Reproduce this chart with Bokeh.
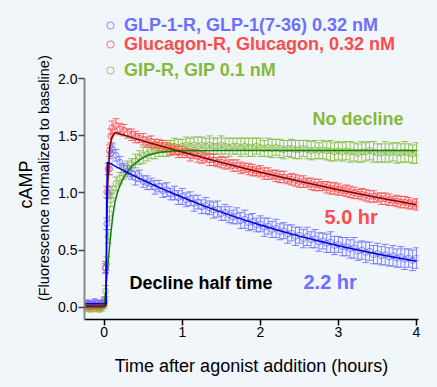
import math
from bokeh.plotting import figure
from bokeh.layouts import row
from bokeh.models import (ColumnDataSource, Whisker, TeeHead, Label, Legend, LegendItem,
                          FixedTicker, Range1d, NumeralTickFormatter)
from bokeh.embed import file_html
from bokeh.resources import INLINE

# ---------------- data ----------------
time_h = [-0.24, -0.21, -0.18, -0.15, -0.12, -0.09, -0.06, -0.03,
          0.0, 0.017, 0.033, 0.05, 0.067, 0.083,
          0.10, 0.15, 0.20, 0.25, 0.30, 0.35, 0.40, 0.45, 0.50, 0.55,
          0.60, 0.65, 0.70, 0.75, 0.80, 0.85, 0.90, 0.95, 1.00, 1.05,
          1.10, 1.15, 1.20, 1.25, 1.30, 1.35, 1.40, 1.45, 1.50, 1.55,
          1.60, 1.65, 1.70, 1.75, 1.80, 1.85, 1.90, 1.95, 2.00, 2.05,
          2.10, 2.15, 2.20, 2.25, 2.30, 2.35, 2.40, 2.45, 2.50, 2.55,
          2.60, 2.65, 2.70, 2.75, 2.80, 2.85, 2.90, 2.95, 3.00, 3.05,
          3.10, 3.15, 3.20, 3.25, 3.30, 3.35, 3.40, 3.45, 3.50, 3.55,
          3.60, 3.65, 3.70, 3.75, 3.80, 3.85, 3.90, 3.95, 4.00]

glp1_camp = [0.03, 0.04, 0.02, 0.03, 0.05, 0.03, 0.02, 0.04,
             0.06, 0.34, 0.73, 1.00, 1.21, 1.35,
             1.39, 1.33, 1.27, 1.22, 1.19, 1.17, 1.13, 1.15, 1.10, 1.09,
             1.08, 1.05, 1.06, 1.02, 1.03, 0.99, 1.00, 0.96, 0.97, 0.94,
             0.95, 0.91, 0.92, 0.88, 0.89, 0.87, 0.85, 0.86, 0.82, 0.83,
             0.81, 0.79, 0.80, 0.76, 0.77, 0.74, 0.75, 0.72, 0.73, 0.70,
             0.71, 0.68, 0.69, 0.66, 0.67, 0.64, 0.65, 0.62, 0.63, 0.60,
             0.62, 0.59, 0.60, 0.57, 0.58, 0.56, 0.57, 0.54, 0.55, 0.53,
             0.53, 0.51, 0.52, 0.49, 0.50, 0.48, 0.49, 0.46, 0.47, 0.45,
             0.46, 0.44, 0.45, 0.43, 0.44, 0.42, 0.43, 0.41, 0.43]
glp1_err = [0.02, 0.02, 0.03, 0.02, 0.02, 0.03, 0.02, 0.02,
            0.03, 0.04, 0.05, 0.05, 0.05, 0.05,
            0.04, 0.05, 0.05, 0.04, 0.05, 0.05, 0.06, 0.05, 0.05, 0.06,
            0.05, 0.06, 0.05, 0.06, 0.06, 0.05, 0.06, 0.06, 0.07, 0.06,
            0.06, 0.07, 0.06, 0.06, 0.07, 0.06, 0.07, 0.07, 0.06, 0.07,
            0.07, 0.06, 0.07, 0.07, 0.08, 0.07, 0.07, 0.06, 0.07, 0.08,
            0.07, 0.07, 0.08, 0.07, 0.07, 0.08, 0.07, 0.08, 0.07, 0.08,
            0.08, 0.07, 0.08, 0.08, 0.07, 0.08, 0.09, 0.08, 0.07, 0.08,
            0.08, 0.08, 0.09, 0.08, 0.08, 0.09, 0.08, 0.08, 0.09, 0.08,
            0.09, 0.08, 0.09, 0.08, 0.09, 0.09, 0.08, 0.09, 0.09]

gcg_camp = [0.01, 0.02, 0.00, 0.01, 0.02, 0.01, 0.00, 0.02,
            0.04, 0.35, 1.01, 1.21, 1.37, 1.50,
            1.57, 1.59, 1.56, 1.55, 1.52, 1.51, 1.49, 1.48, 1.47, 1.45,
            1.45, 1.43, 1.42, 1.41, 1.40, 1.38, 1.38, 1.36, 1.36, 1.35,
            1.33, 1.34, 1.32, 1.31, 1.31, 1.29, 1.29, 1.27, 1.27, 1.26,
            1.25, 1.24, 1.24, 1.22, 1.22, 1.21, 1.20, 1.19, 1.19, 1.17,
            1.17, 1.16, 1.15, 1.14, 1.14, 1.12, 1.12, 1.11, 1.10, 1.10,
            1.09, 1.08, 1.07, 1.07, 1.06, 1.05, 1.04, 1.04, 1.03, 1.02,
            1.02, 1.01, 1.00, 0.99, 0.99, 0.98, 0.97, 0.97, 0.96, 0.95,
            0.95, 0.94, 0.93, 0.93, 0.92, 0.92, 0.91, 0.90, 0.90]
gcg_err = [0.02, 0.02, 0.02, 0.03, 0.02, 0.02, 0.02, 0.03,
           0.03, 0.05, 0.05, 0.05, 0.05, 0.06,
           0.06, 0.06, 0.05, 0.05, 0.04, 0.05, 0.05, 0.04, 0.05, 0.04,
           0.05, 0.04, 0.05, 0.05, 0.04, 0.05, 0.04, 0.05, 0.05, 0.04,
           0.05, 0.04, 0.05, 0.05, 0.04, 0.05, 0.05, 0.04, 0.05, 0.05,
           0.04, 0.05, 0.05, 0.05, 0.04, 0.05, 0.05, 0.04, 0.05, 0.05,
           0.05, 0.04, 0.05, 0.05, 0.05, 0.04, 0.05, 0.05, 0.05, 0.05,
           0.04, 0.05, 0.05, 0.05, 0.04, 0.05, 0.05, 0.05, 0.05, 0.04,
           0.05, 0.05, 0.05, 0.04, 0.05, 0.05, 0.05, 0.05, 0.04, 0.05,
           0.05, 0.05, 0.04, 0.05, 0.05, 0.05, 0.05, 0.04, 0.05]

gip_camp = [-0.01, 0.00, -0.02, 0.01, -0.01, 0.00, -0.02, 0.00,
            0.02, 0.14, 0.38, 0.62, 0.82, 0.94,
            1.01, 1.08, 1.13, 1.18, 1.22, 1.25, 1.28, 1.31, 1.33, 1.34,
            1.36, 1.37, 1.38, 1.39, 1.39, 1.40, 1.41, 1.40, 1.41, 1.42,
            1.41, 1.42, 1.41, 1.42, 1.41, 1.42, 1.41, 1.41, 1.42, 1.41,
            1.40, 1.41, 1.41, 1.40, 1.41, 1.40, 1.40, 1.41, 1.40, 1.39,
            1.40, 1.39, 1.40, 1.39, 1.38, 1.39, 1.39, 1.38, 1.38, 1.39,
            1.38, 1.37, 1.38, 1.37, 1.38, 1.37, 1.37, 1.36, 1.37, 1.36,
            1.37, 1.36, 1.36, 1.35, 1.36, 1.36, 1.37, 1.36, 1.35, 1.35,
            1.36, 1.35, 1.36, 1.35, 1.35, 1.36, 1.35, 1.34, 1.35]
gip_err = [0.02, 0.03, 0.02, 0.02, 0.03, 0.02, 0.02, 0.03,
           0.03, 0.05, 0.06, 0.06, 0.06, 0.06,
           0.05, 0.06, 0.05, 0.06, 0.06, 0.05, 0.06, 0.06, 0.07, 0.06,
           0.06, 0.07, 0.06, 0.07, 0.07, 0.06, 0.07, 0.07, 0.06, 0.07,
           0.07, 0.07, 0.08, 0.07, 0.07, 0.08, 0.07, 0.07, 0.08, 0.07,
           0.08, 0.07, 0.07, 0.08, 0.07, 0.08, 0.08, 0.07, 0.08, 0.07,
           0.08, 0.08, 0.07, 0.08, 0.08, 0.07, 0.08, 0.08, 0.08, 0.07,
           0.08, 0.08, 0.08, 0.07, 0.08, 0.08, 0.09, 0.08, 0.08, 0.08,
           0.08, 0.09, 0.08, 0.08, 0.09, 0.08, 0.08, 0.09, 0.08, 0.08,
           0.09, 0.08, 0.08, 0.09, 0.08, 0.09, 0.08, 0.08, 0.09]

# fitted curves
glp1_fit_t = [-0.25, 0.025, 0.03, 0.04, 0.25, 0.5, 0.75, 1.0, 1.25, 1.5, 1.75, 2.0,
              2.25, 2.5, 2.75, 3.0, 3.25, 3.5, 3.75, 4.0]
glp1_fit_v = [0.03, 0.03, 0.90, 1.27, 1.195, 1.111, 1.034, 0.962, 0.894, 0.832, 0.773, 0.719,
              0.669, 0.622, 0.579, 0.538, 0.501, 0.466, 0.433, 0.403]
gcg_fit_t = [-0.25, 0.02, 0.04, 0.07, 0.10, 0.14, 0.5, 1.0, 1.5, 2.0, 2.5, 3.0, 3.5, 4.0]
gcg_fit_v = [0.01, 0.01, 1.00, 1.40, 1.49, 1.53, 1.456, 1.358, 1.267, 1.182, 1.103, 1.029, 0.960, 0.896]
gip_fit_t = [-0.25, 0.0, 0.02, 0.05, 0.08, 0.11, 0.14, 0.18, 0.23, 0.29, 0.36, 0.45, 0.55,
             0.7, 0.85, 1.0, 1.5, 4.0]
gip_fit_v = [0.0, 0.0, 0.16, 0.40, 0.62, 0.80, 0.93, 1.03, 1.11, 1.18, 1.24, 1.29, 1.33,
             1.355, 1.365, 1.37, 1.372, 1.372]

x_ticks = [0, 1, 2, 3, 4]
y_ticks = [0.0, 0.5, 1.0, 1.5, 2.0]

legend_labels = ["GLP-1-R, GLP-1(7-36) 0.32 nM", "Glucagon-R, Glucagon, 0.32 nM", "GIP-R, GIP 0.1 nM"]
y_label_main = "cAMP"
y_label_sub = "(Fluorescence normalized to baseline)"
x_label = "Time after agonist addition (hours)"

# ---------------- styles ----------------
BG = "#f1f6fb"
BLUE, RED, GREEN = "#6e6eff", "#ff4b4b", "#86b83a"
BLUE_L, RED_L, GREEN_L = "#0000dd", "#800000", "#108010"
FONT = "Liberation Sans"
LEFT_W = 52

# narrow strip (no axes) holding the two-line y-axis title
side = figure(width=LEFT_W, height=387, output_backend="svg", toolbar_location=None,
              x_axis_location=None, y_axis_location=None,
              x_range=Range1d(0, LEFT_W), y_range=Range1d(387, 0),
              min_border_left=0, min_border_right=0, min_border_top=0, min_border_bottom=0,
              background_fill_color=BG, border_fill_color=BG, outline_line_color=None)
side.grid.visible = False
side.add_layout(Label(x=25, y=218, text=y_label_main, angle=math.pi / 2,
                      text_font=FONT, text_font_size="18px", text_color="#000000",
                      text_align="center", text_baseline="middle"))
side.add_layout(Label(x=43, y=210, text=y_label_sub, angle=math.pi / 2,
                      text_font=FONT, text_font_size="14.5px", text_color="#000000",
                      text_align="center", text_baseline="middle"))

p = figure(width=437 - LEFT_W, height=387, output_backend="svg", toolbar_location=None,
           x_range=Range1d(-0.253, 4.026), y_range=Range1d(-0.108, 2.598),
           min_border_left=84 - LEFT_W, min_border_right=19, min_border_top=10,
           min_border_bottom=68,
           background_fill_color=BG, border_fill_color=BG, outline_line_color=None)
p.xgrid.visible = False
p.ygrid.visible = False

p.xaxis.ticker = FixedTicker(ticks=x_ticks)
p.yaxis.ticker = FixedTicker(ticks=y_ticks)
p.yaxis.formatter = NumeralTickFormatter(format="0.0")
p.yaxis.bounds = (-0.108, 2.0)
for ax in (p.xaxis, p.yaxis):
    ax.minor_tick_line_color = None
    ax.major_tick_in = 0
    ax.major_tick_out = 6
    ax.major_label_standoff = 1
    ax.major_label_text_font = FONT
    ax.major_label_text_font_size = "14px"
    ax.major_label_text_color = "#000000"
p.xaxis.axis_line_color = "#000000"
p.xaxis.axis_line_width = 1.5
p.xaxis.major_tick_line_color = "#000000"
p.xaxis.major_tick_line_width = 1.5
p.yaxis.axis_line_color = "#8a8a8a"
p.yaxis.axis_line_width = 2
p.yaxis.major_tick_line_color = "#444444"
p.yaxis.major_tick_line_width = 1.5

p.xaxis.axis_label = x_label
p.xaxis.axis_label_text_font = FONT
p.xaxis.axis_label_text_font_style = "normal"
p.xaxis.axis_label_text_font_size = "18px"
p.xaxis.axis_label_text_color = "#000000"
p.xaxis.axis_label_standoff = 16

series = [
    (gip_camp, gip_err, GREEN),
    (gcg_camp, gcg_err, RED),
    (glp1_camp, glp1_err, BLUE),
]
renderers = []
for vals, errs, col in series:
    src = ColumnDataSource(dict(t=time_h, v=vals,
                                lo=[a - b for a, b in zip(vals, errs)],
                                hi=[a + b for a, b in zip(vals, errs)]))
    w = Whisker(source=src, base="t", upper="hi", lower="lo", line_color=col, line_width=1,
                line_alpha=0.85,
                upper_head=TeeHead(size=7, line_color=col, line_width=1, line_alpha=0.85),
                lower_head=TeeHead(size=7, line_color=col, line_width=1, line_alpha=0.85))
    p.add_layout(w)
    r = p.scatter("t", "v", source=src, marker="circle", size=6, fill_color=None,
                  line_color=col, line_width=1, line_alpha=0.8)
    renderers.append(r)

p.line(gip_fit_t, gip_fit_v, line_color=GREEN_L, line_width=1.5)
p.line(gcg_fit_t, gcg_fit_v, line_color=RED_L, line_width=1.5)
p.line(glp1_fit_t, glp1_fit_v, line_color=BLUE_L, line_width=1.5)

# legends (one per series so each label keeps its colour)
leg_specs = [(legend_labels[0], renderers[2], BLUE, 283.5),
             (legend_labels[1], renderers[1], RED, 264.5),
             (legend_labels[2], renderers[0], GREEN, 238.5)]
for lab_text, rend, col, vy in leg_specs:
    lg = Legend(items=[LegendItem(label=lab_text, renderers=[rend])], location=(17, vy),
                padding=0, margin=0, spacing=0, glyph_width=18, glyph_height=18,
                label_height=18, label_standoff=5, label_text_font=FONT,
                label_text_font_style="bold", label_text_font_size="18px",
                label_text_color=col, label_text_baseline="middle",
                border_line_color=None, background_fill_alpha=0)
    p.add_layout(lg, "center")

def lab(text, x, y, size, color):
    p.add_layout(Label(x=x, y=y, x_units="screen", y_units="screen", text=text,
                       text_font=FONT, text_font_style="bold", text_font_size=size,
                       text_color=color, text_align="left", text_baseline="middle"))

lab("No decline", 228, 201, "18px", GREEN)
lab("5.0 hr", 240, 103, "20px", RED)
lab("2.2 hr", 219, 38, "20px", BLUE)
lab("Decline half time", 45, 37, "18px", "#000000")

layout = row(side, p, spacing=0)
html = file_html(layout, INLINE)
html = html.replace("</head>", "<style>body{background:%s;}</style></head>" % BG, 1)
open("out.html", "w").write(html)
